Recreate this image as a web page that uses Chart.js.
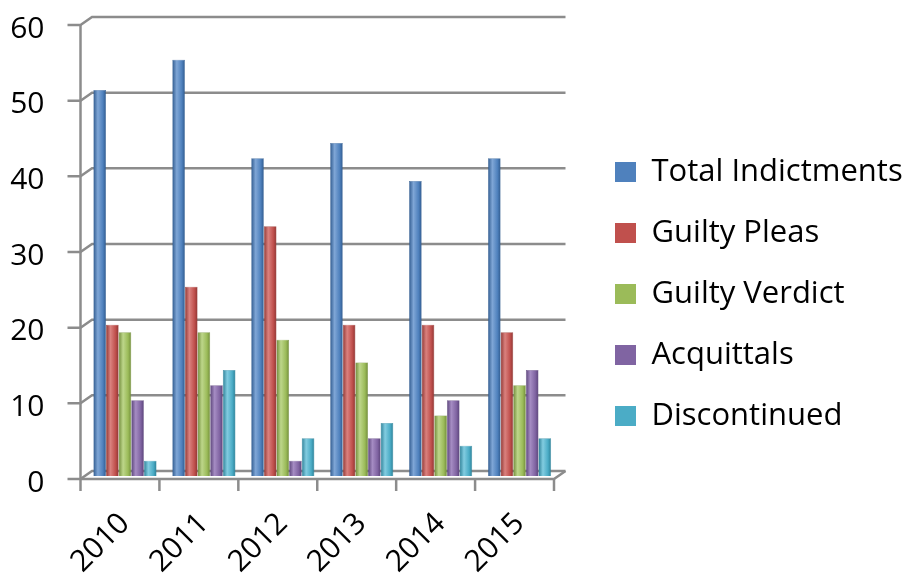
<!DOCTYPE html>
<html>
<head>
<meta charset="utf-8">
<script src="https://cdn.jsdelivr.net/npm/chart.js@4/dist/chart.umd.min.js"></script>
<style>
  html, body { margin: 0; padding: 0; background: #fff; }
  #wrap { width: 916px; height: 580px; }
</style>
</head>
<body>
<div id="wrap"><canvas id="casesChart"></canvas></div>
<script>
const years = ['2010', '2011', '2012', '2013', '2014', '2015'];
const totalIndictments = [51, 55, 42, 44, 39, 42];
const guiltyPleas = [20, 25, 33, 20, 20, 19];
const guiltyVerdict = [19, 19, 18, 15, 8, 12];
const acquittals = [10, 12, 2, 5, 10, 14];
const discontinued = [2, 14, 5, 7, 4, 5];
const yTicks = [0, 10, 20, 30, 40, 50, 60];

const FONT = "'Open Sans', sans-serif";
const GRID = '#8c8c8c';
const CAT_PCT = 0.8;

// base / light / dark shades for the cylinder look
const shades = [
    ['#4F81BD', '#7FA6D6', '#2F5A8E'],
    ['#C0504D', '#DA817E', '#8E3532'],
    ['#9BBB59', '#BDD68A', '#6F8A39'],
    ['#8064A2', '#A58CC3', '#5A4379'],
    ['#4BACC6', '#82CCE0', '#2B7F96']
];

// offsets of the back wall and the front axes relative to the bar plane
const BACK = { dx: 6.5, dy: -5 };
const FRONT = { dx: -5, dy: 3 };

function barFill(context) {
    const chart = context.chart;
    const x = chart.scales.x;
    const s = shades[context.datasetIndex];
    if (!x || !chart.chartArea) return s[0];
    const step = (chart.chartArea.right - chart.chartArea.left) / years.length;
    const w = step * CAT_PCT / shades.length;
    const left = x.getPixelForValue(context.dataIndex) - step * CAT_PCT / 2 + w * context.datasetIndex;
    const g = chart.ctx.createLinearGradient(left, 0, left + w, 0);
    g.addColorStop(0, s[2]);
    g.addColorStop(0.35, s[1]);
    g.addColorStop(0.75, s[0]);
    g.addColorStop(1, s[2]);
    return g;
}

// draws the 3d-looking walls: back gridlines, front axes and the slanted joins
const wallsPlugin = {
    id: 'walls',
    afterLayout(chart) {
        // park the legend where the reference has it
        const lg = chart.legend;
        lg.left = 585;
        lg.right = chart.width;
        lg.width = lg.right - lg.left;
        lg.top -= 7;
        lg.bottom -= 7;
    },
    beforeDatasetsDraw(chart) {
        const { ctx, chartArea, scales } = chart;
        const y = scales.y;
        const L = chartArea.left, R = chartArea.right;
        ctx.save();
        ctx.strokeStyle = GRID;
        ctx.lineWidth = 2.5;
        yTicks.forEach(v => {
            const p = y.getPixelForValue(v);
            ctx.beginPath();
            ctx.moveTo(L + FRONT.dx - 13, p + FRONT.dy);
            ctx.lineTo(L + FRONT.dx, p + FRONT.dy);
            ctx.lineTo(L + BACK.dx, p + BACK.dy);
            ctx.lineTo(R + BACK.dx, p + BACK.dy);
            ctx.stroke();
        });
        // front vertical axis
        const top = y.getPixelForValue(60), base = y.getPixelForValue(0);
        ctx.beginPath();
        ctx.moveTo(L + FRONT.dx, top + FRONT.dy);
        ctx.lineTo(L + FRONT.dx, base + FRONT.dy + 12);
        ctx.stroke();
        // front horizontal axis with category ticks
        const x = scales.x;
        const step = (R - L) / years.length;
        ctx.beginPath();
        ctx.moveTo(L + FRONT.dx, base + FRONT.dy);
        ctx.lineTo(R + FRONT.dx, base + FRONT.dy);
        ctx.lineTo(R + BACK.dx, base + BACK.dy);
        ctx.stroke();
        for (let i = 1; i <= years.length; i++) {
            const xp = x.getPixelForValue(i - 1) + step / 2;
            ctx.beginPath();
            ctx.moveTo(xp + FRONT.dx, base + FRONT.dy);
            ctx.lineTo(xp + FRONT.dx, base + FRONT.dy + 12);
            ctx.stroke();
        }
        ctx.restore();
    }
};

const ctx = document.getElementById('casesChart').getContext('2d');

new Chart(ctx, {
    type: 'bar',
    data: {
        labels: years,
        datasets: [
            { label: 'Total Indictments', data: totalIndictments },
            { label: 'Guilty Pleas', data: guiltyPleas },
            { label: 'Guilty Verdict', data: guiltyVerdict },
            { label: 'Acquittals', data: acquittals },
            { label: 'Discontinued', data: discontinued }
        ].map((d, i) => Object.assign(d, {
            backgroundColor: barFill,
            borderColor: shades[i][2],
            borderWidth: 0.5
        }))
    },
    options: {
        responsive: true,
        maintainAspectRatio: false,
        animation: false,
        datasets: {
            bar: {
                categoryPercentage: CAT_PCT,
                barPercentage: 1.0
            }
        },
        layout: {
            padding: { top: 22, right: 257, bottom: 0, left: 0 }
        },
        plugins: {
            tooltip: { enabled: false },
            legend: {
                position: 'right',
                align: 'center',
                maxWidth: 100,
                labels: {
                    boxWidth: 21,
                    boxHeight: 20,
                    padding: 30,
                    color: '#000',
                    font: { family: FONT, size: 31 },
                    generateLabels(chart) {
                        return chart.data.datasets.map((d, i) => ({
                            text: d.label,
                            fillStyle: shades[i][0],
                            strokeStyle: shades[i][0],
                            lineWidth: 0,
                            fontColor: '#000',
                            datasetIndex: i,
                            hidden: false
                        }));
                    }
                }
            }
        },
        scales: {
            x: {
                grid: { display: false, drawTicks: false },
                border: { display: false },
                ticks: {
                    color: '#000',
                    font: { family: FONT, size: 30 },
                    minRotation: 45,
                    maxRotation: 45,
                    padding: 30
                },
                afterFit(scale) { scale.height = 104; }
            },
            y: {
                min: 0,
                max: 60,
                grid: { display: false, drawTicks: false },
                border: { display: false },
                ticks: {
                    stepSize: 10,
                    color: '#000',
                    font: { family: FONT, size: 30 },
                    padding: 41,
                    labelOffset: 7
                },
                afterFit(scale) {
                    scale.width = 85.5;
                    scale.paddingTop = 0;
                    scale.paddingBottom = 0;
                }
            }
        }
    },
    plugins: [wallsPlugin]
});
</script>
</body>
</html>
